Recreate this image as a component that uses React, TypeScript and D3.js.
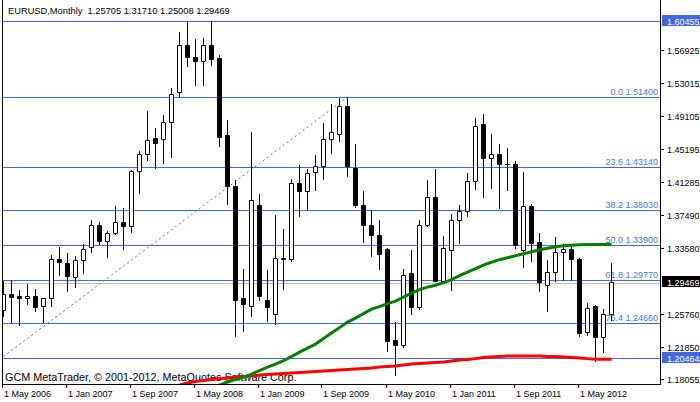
import React from 'react'
import * as d3 from 'd3'

// monthly EURUSD bars, May 2006 .. Sep 2012
const opens = [
  1.2618, 1.2803, 1.2783, 1.2756, 1.2791, 1.2669, 1.2756, 1.3228, 1.3181, 1.3012,
  1.3217, 1.3370, 1.3630, 1.3437, 1.3532, 1.3666, 1.3618, 1.4269, 1.4470, 1.4651,
  1.4647, 1.4848, 1.5202, 1.5758, 1.5616, 1.5561, 1.5758, 1.5600, 1.4694, 1.4091,
  1.2756, 1.2661, 1.3867, 1.2736, 1.2578, 1.3230, 1.3221, 1.4119, 1.4028, 1.4257,
  1.4324, 1.4647, 1.4706, 1.5037, 1.4296, 1.3867, 1.3630, 1.3512, 1.3347, 1.2259,
  1.2208, 1.3055, 1.2657, 1.3622, 1.3961, 1.2964, 1.3335, 1.3686, 1.3792, 1.4150,
  1.4816, 1.4418, 1.4470, 1.4352, 1.4351, 1.3331, 1.3855, 1.3425, 1.2921, 1.3075,
  1.3311, 1.3347, 1.3228, 1.2354, 1.2665, 1.2295, 1.25705,
]
const highs = [
  1.2964, 1.2972, 1.2854, 1.2925, 1.2866, 1.2767, 1.3268, 1.3366, 1.3291, 1.3256,
  1.3406, 1.3682, 1.3666, 1.3555, 1.3847, 1.3831, 1.4273, 1.4497, 1.4970, 1.4769,
  1.4923, 1.5242, 1.5904, 1.6022, 1.5821, 1.5841, 1.6038, 1.5636, 1.4864, 1.4162,
  1.3102, 1.4722, 1.3989, 1.3091, 1.3741, 1.3575, 1.4166, 1.4332, 1.4292, 1.4450,
  1.4836, 1.5061, 1.5131, 1.5139, 1.4580, 1.4024, 1.3800, 1.3689, 1.3352, 1.2472,
  1.3102, 1.3327, 1.3682, 1.4154, 1.4284, 1.3496, 1.3752, 1.3863, 1.4245, 1.4887,
  1.4934, 1.4698, 1.4580, 1.4540, 1.4383, 1.4249, 1.3871, 1.3536, 1.3209, 1.3485,
  1.3398, 1.3386, 1.3232, 1.2697, 1.2677, 1.2630, 1.31710,
]
const lows = [
  1.2551, 1.2480, 1.2444, 1.2689, 1.2610, 1.2480, 1.2669, 1.3035, 1.2846, 1.2894,
  1.3059, 1.3307, 1.3398, 1.3248, 1.3516, 1.3347, 1.3544, 1.4005, 1.4395, 1.4296,
  1.4359, 1.4430, 1.5147, 1.5506, 1.5281, 1.5281, 1.5514, 1.4560, 1.3879, 1.2314,
  1.2373, 1.2543, 1.2740, 1.2492, 1.2452, 1.2866, 1.3201, 1.3733, 1.3812, 1.4036,
  1.4166, 1.4473, 1.4619, 1.4206, 1.3839, 1.3425, 1.3260, 1.3110, 1.2129, 1.1853,
  1.2176, 1.2578, 1.2630, 1.3618, 1.2957, 1.2957, 1.2854, 1.3410, 1.3733, 1.4056,
  1.3957, 1.4068, 1.3827, 1.4036, 1.3358, 1.3134, 1.3201, 1.2846, 1.2610, 1.2964,
  1.2976, 1.2976, 1.2314, 1.2326, 1.2019, 1.2117, 1.25008,
]
const closes = [
  1.2807, 1.2779, 1.2756, 1.2791, 1.2657, 1.2756, 1.3228, 1.3193, 1.3016, 1.3217,
  1.3347, 1.3630, 1.3437, 1.3536, 1.3666, 1.3618, 1.4261, 1.4470, 1.4635, 1.4600,
  1.4848, 1.5179, 1.5758, 1.5616, 1.5561, 1.5758, 1.5592, 1.4667, 1.4087, 1.2736,
  1.2685, 1.3926, 1.2787, 1.2657, 1.3240, 1.3222, 1.4127, 1.4028, 1.4245, 1.4324,
  1.4647, 1.4722, 1.5037, 1.4324, 1.3859, 1.3626, 1.3512, 1.3284, 1.2255, 1.2208,
  1.3039, 1.2657, 1.3622, 1.3961, 1.2964, 1.3358, 1.3686, 1.3796, 1.4150, 1.4800,
  1.4418, 1.4470, 1.4347, 1.4347, 1.3386, 1.3855, 1.3418, 1.2945, 1.3075, 1.3311,
  1.3339, 1.3228, 1.2346, 1.2649, 1.2295, 1.2567, 1.29469,
]

// slow moving average (green), from bar 25
const greenMA = [
  1.1672, 1.1708, 1.1731, 1.1767, 1.1796, 1.1826, 1.1861, 1.1903, 1.1944, 1.1979,
  1.2021, 1.2068, 1.2121, 1.2169, 1.2216, 1.2281, 1.2346, 1.2411, 1.2476, 1.2523,
  1.2576, 1.2630, 1.2659, 1.2695, 1.2724, 1.2771, 1.2819, 1.2860, 1.2890, 1.2913,
  1.2943, 1.2978, 1.3025, 1.3067, 1.3108, 1.3150, 1.3185, 1.3215, 1.3238, 1.3262,
  1.3286, 1.3309, 1.3333, 1.3351, 1.3368, 1.3380, 1.3386, 1.3392, 1.3394, 1.3395,
  1.3396, 1.3397,
]
// slower moving average (red), from bar 22
const redMA = [
  1.1731, 1.1755, 1.1773, 1.1784, 1.1796, 1.1808, 1.1814, 1.1826, 1.1832, 1.1838,
  1.1849, 1.1855, 1.1861, 1.1867, 1.1873, 1.1879, 1.1885, 1.1891, 1.1897, 1.1903,
  1.1909, 1.1914, 1.1920, 1.1926, 1.1932, 1.1944, 1.1950, 1.1956, 1.1968, 1.1979,
  1.1985, 1.1991, 1.1997, 1.2003, 1.2015, 1.2027, 1.2033, 1.2044, 1.2056, 1.2062,
  1.2068, 1.2074, 1.2074, 1.2074, 1.2074, 1.2074, 1.2068, 1.2068, 1.2062, 1.2056,
  1.2050, 1.2044, 1.2038, 1.2038, 1.2038,
]
const greenStart = 25
const redStart = 22

const fibLevels = [0.0, 23.6, 38.2, 50.0, 61.8, 76.4]
const fibPrices = [1.514, 1.4314, 1.3803, 1.339, 1.2977, 1.2466]
const hLines = [1.60455, 1.20464]
const lastPrice = 1.29469

const priceTicks = [1.56925, 1.53015, 1.49105, 1.45195, 1.41285, 1.3749, 1.3358, 1.2576, 1.2185, 1.18055]
const timeTickBars = [0, 8, 16, 24, 32, 40, 48, 56, 64, 72]
const timeTickLabels = ['1 May 2006', '1 Jan 2007', '1 Sep 2007', '1 May 2008', '1 Jan 2009', '1 Sep 2009', '1 May 2010', '1 Jan 2011', '1 Sep 2011', '1 May 2012']

// fibo anchor: Nov 2005 low -> Dec 2009 high
const fibFrom = { bar: -6, price: 1.164 }
const fibTo = { bar: 43, price: 1.514 }

const W = 700
const H = 402
const left = 2
const right = 660
const bottom = 384
const blue = '#4169E1'
const font = "'Liberation Sans', Arial, sans-serif"

const x = d3.scaleLinear().domain([0, 76]).range([3.5, 611.5])
const y = d3.scaleLinear().domain([1.60455, 1.18055]).range([20.5, 20.5 + 0.424 * 845])
const py = (v: number) => Math.round(y(v)) + 0.5

export default function App() {
  const bars = opens.map((o, i) => ({ i, o, h: highs[i], l: lows[i], c: closes[i] }))

  const line = d3.line<[number, number]>().x(d => x(d[0])).y(d => y(d[1]))
  const greenPts = greenMA.map((v, k) => [greenStart + k, v] as [number, number])
  const redPts = redMA.map((v, k) => [redStart + k, v] as [number, number])

  const axisLabel = (v: number, bg: string) => {
    const cy = Math.round(y(v))
    return (
      <g key={'b' + v}>
        <rect x={662} y={cy - 6} width={38} height={11} fill={bg} />
        <text x={667} y={cy + 3.5} fontSize={9} fill="#fff" fontFamily={font}>{v.toFixed(5)}</text>
      </g>
    )
  }

  return (
    <svg width={W} height={H} style={{ position: 'absolute', left: 0, top: 0, background: '#fff' }}>
      <defs>
        <clipPath id="plot">
          <rect x={left + 1} y={0} width={right - left - 1} height={bottom} />
        </clipPath>
      </defs>
      <rect width={W} height={H} fill="#fff" />

      <g clipPath="url(#plot)">
        {[...hLines, ...fibPrices].map(p => (
          <line key={'h' + p} x1={left} x2={right} y1={py(p)} y2={py(p)} stroke={blue} strokeWidth={1} />
        ))}
        <line x1={left} x2={right} y1={py(lastPrice) + 1} y2={py(lastPrice) + 1} stroke="#C0C0C0" strokeWidth={1} />
        <line
          x1={x(fibFrom.bar)} y1={y(fibFrom.price)} x2={x(fibTo.bar)} y2={y(fibTo.price)}
          stroke={blue} strokeWidth={1} strokeDasharray="2,3"
        />
        {fibPrices.map((p, k) => (
          <text key={'fl' + p} x={658} y={py(p) - 2.5} textAnchor="end" fontSize={9} fill="#4f72e6" fontFamily={font}>
            {fibLevels[k].toFixed(1)} {p.toFixed(5)}
          </text>
        ))}
        <text x={5} y={380.5} fontSize={10.8} fill="#000" fontFamily={font}>
          GCM MetaTrader, © 2001-2012, MetaQuotes Software Corp.
        </text>

        {bars.map(b => {
          const cx = x(b.i)
          const bull = b.c >= b.o
          const t = Math.round(y(Math.max(b.o, b.c)))
          const btm = Math.round(y(Math.min(b.o, b.c)))
          return (
            <g key={'c' + b.i}>
              <line x1={cx} x2={cx} y1={Math.round(y(b.h))} y2={Math.round(y(b.l)) + 1} stroke="#000" strokeWidth={1} />
              <path
                d={`M${cx - 2},${t + 0.5}h4v${btm - t}h-4z`}
                fill={bull ? '#fff' : '#000'}
                stroke="#000"
                strokeWidth={1}
              />
            </g>
          )
        })}

        <path d={line(redPts) || ''} fill="none" stroke="#FF0000" strokeWidth={3} />
        <path d={line(greenPts) || ''} fill="none" stroke="#008000" strokeWidth={3} />
      </g>

      {/* frame */}
      <line x1={left + 0.5} x2={left + 0.5} y1={0} y2={bottom + 1} stroke="#000" />
      <line x1={right + 0.5} x2={right + 0.5} y1={0} y2={bottom + 1} stroke="#000" />
      <line x1={left} x2={right + 1} y1={bottom + 0.5} y2={bottom + 0.5} stroke="#000" />

      <text x={8} y={13.5} fontSize={9.3} fill="#000" fontFamily={font}>
        EURUSD,Monthly{'\u00a0\u00a0'}1.25705 1.31710 1.25008 1.29469
      </text>

      {/* price axis */}
      {priceTicks.map(v => {
        const cy = Math.round(y(v)) + 0.5
        return (
          <g key={'pt' + v}>
            <line x1={661} x2={664} y1={cy} y2={cy} stroke="#000" />
            <text x={667} y={cy + 3.5} fontSize={9} fill="#000" fontFamily={font}>{v.toFixed(5)}</text>
          </g>
        )
      })}
      {axisLabel(1.60455, blue)}
      {axisLabel(lastPrice, '#000')}
      {axisLabel(1.20464, blue)}

      {/* time axis */}
      {timeTickBars.map((bi, k) => {
        const tx = Math.round(x(bi) - 2) + 0.5
        return (
          <g key={'tt' + bi}>
            <line x1={tx} x2={tx} y1={bottom + 1} y2={bottom + 4} stroke="#000" />
            <text x={tx + 1.5} y={397} fontSize={9} fill="#000" fontFamily={font}>{timeTickLabels[k]}</text>
          </g>
        )
      })}
    </svg>
  )
}
